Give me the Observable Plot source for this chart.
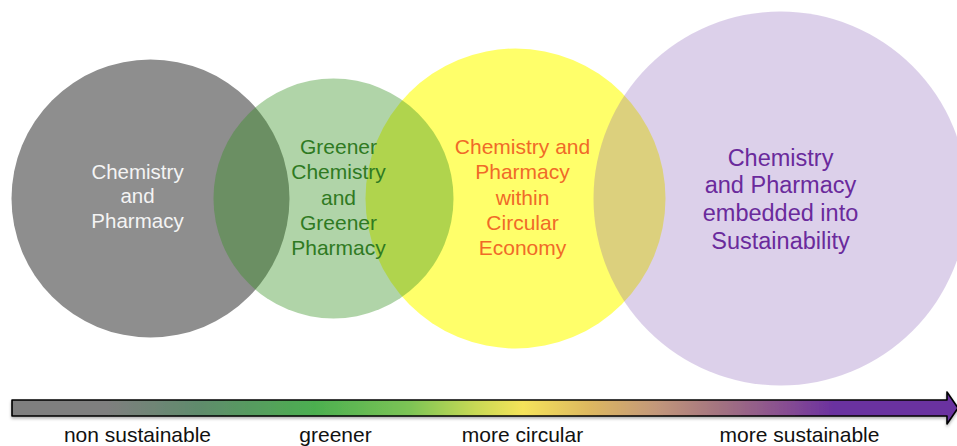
<!DOCTYPE html>
<html>
<head>
<meta charset="utf-8">
<script src="https://cdn.jsdelivr.net/npm/d3@7"></script>
<script src="https://cdn.jsdelivr.net/npm/@observablehq/plot@0.6"></script>
<style>
  html, body { margin: 0; padding: 0; background: #fff; }
  #chart svg { display: block; }
</style>
</head>
<body>
<div id="chart"></div>
<script>
// ---- data ----
const stageLabels = [
  "Chemistry\nand\nPharmacy",
  "Greener\nChemistry\nand\nGreener\nPharmacy",
  "Chemistry and\nPharmacy\nwithin\nCircular\nEconomy",
  "Chemistry\nand Pharmacy\nembedded into\nSustainability"
];
const stageX = [150, 333, 515, 780];     // circle centre along the scale
const stageY = [198, 198, 198, 198];
const stageR = [139, 120, 150, 187];     // circle size
const labelX = [137, 338, 522, 780];
const labelY = [195, 196, 196, 198];
const stageFill = ["#8e8e8e", "rgb(52,145,32)", "#ffff6a", "rgb(126,81,178)"];
const stageOpacity = [1, 0.39, 1, 0.27];
const stageTextColor = ["#f4f4f4", "#2f7a22", "#f06a28", "#6a2a9c"];
const stageTextSize = [20.5, 21, 21, 23.5];
const drawOrder = [0, 2, 1, 3];

const scaleLabels = ["non sustainable", "greener", "more circular", "more sustainable"];
const scaleLabelX = [137, 335, 522, 799];

// arrow outline (x, top, bottom)
const arrowX = [12, 947, 947, 958];
const arrowTop = [400, 400, 392, 408];
const arrowBottom = [416, 416, 424, 408];

const gradOffsets = [0, 0.10, 0.20, 0.32, 0.42, 0.49, 0.54, 0.61, 0.68, 0.75, 0.82, 0.87, 1];
const gradColors = ["#7f7f7f", "#7f7f7f", "#5f8c6c", "#4caf50", "#7cc455", "#c8d955", "#f5e35a", "#ddb860", "#c3987a", "#a27281", "#864c92", "#6a30a0", "#6a30a0"];

// ---- build ----
const circles = stageLabels.map((t, i) => ({
  text: t, x: stageX[i], y: stageY[i], r: stageR[i],
  lx: labelX[i], ly: labelY[i],
  fill: stageFill[i], op: stageOpacity[i],
  tc: stageTextColor[i], ts: stageTextSize[i]
}));
const arrow = arrowX.map((x, i) => ({x, y1: arrowTop[i], y2: arrowBottom[i]}));
const ticks = scaleLabels.map((t, i) => ({t, x: scaleLabelX[i]}));

const font = "Helvetica, Arial, 'Liberation Sans', sans-serif";

const marks = [];
for (const i of drawOrder) {
  const c = circles[i];
  marks.push(Plot.dot([c], {x: "x", y: "y", r: "r", fill: c.fill, fillOpacity: c.op, stroke: "none"}));
}
for (const c of circles) {
  marks.push(Plot.text([c], {
    x: "lx", y: "ly", text: "text", fill: c.tc, fontSize: c.ts,
    lineHeight: c.ts > 22 ? 1.19 : 1.2, lineAnchor: "middle", textAnchor: "middle"
  }));
}
marks.push(Plot.areaY(arrow, {x: "x", y1: "y1", y2: "y2", fill: "url(#barGrad)", stroke: "#000", strokeWidth: 1.6, curve: "linear", className: "arrowbar"}));
marks.push(Plot.text(ticks, {x: "x", y: 435, text: "t", fill: "#111", fontSize: 21, lineAnchor: "middle"}));

const chart = Plot.plot({
  width: 957,
  height: 446,
  margin: 0,
  x: {domain: [0, 957], axis: null},
  y: {domain: [446, 0], axis: null},
  r: {type: "identity"},
  style: {fontFamily: font, background: "#fff"},
  marks
});

const svg = d3.select(chart);
const defs = svg.insert("defs", ":first-child");
const g = defs.append("linearGradient").attr("id", "barGrad")
  .attr("gradientUnits", "userSpaceOnUse")
  .attr("x1", 12).attr("x2", 958).attr("y1", 0).attr("y2", 0);
gradOffsets.forEach((o, i) => g.append("stop").attr("offset", o).attr("stop-color", gradColors[i]));
const f = defs.append("filter").attr("id", "shadow").attr("x", "-5%").attr("y", "-50%").attr("width", "110%").attr("height", "200%");
f.append("feDropShadow").attr("dx", 0).attr("dy", 2).attr("stdDeviation", 1.5).attr("flood-color", "#000").attr("flood-opacity", 0.3);
svg.selectAll(".arrowbar path").attr("filter", "url(#shadow)");

document.getElementById("chart").appendChild(chart);
</script>
</body>
</html>
